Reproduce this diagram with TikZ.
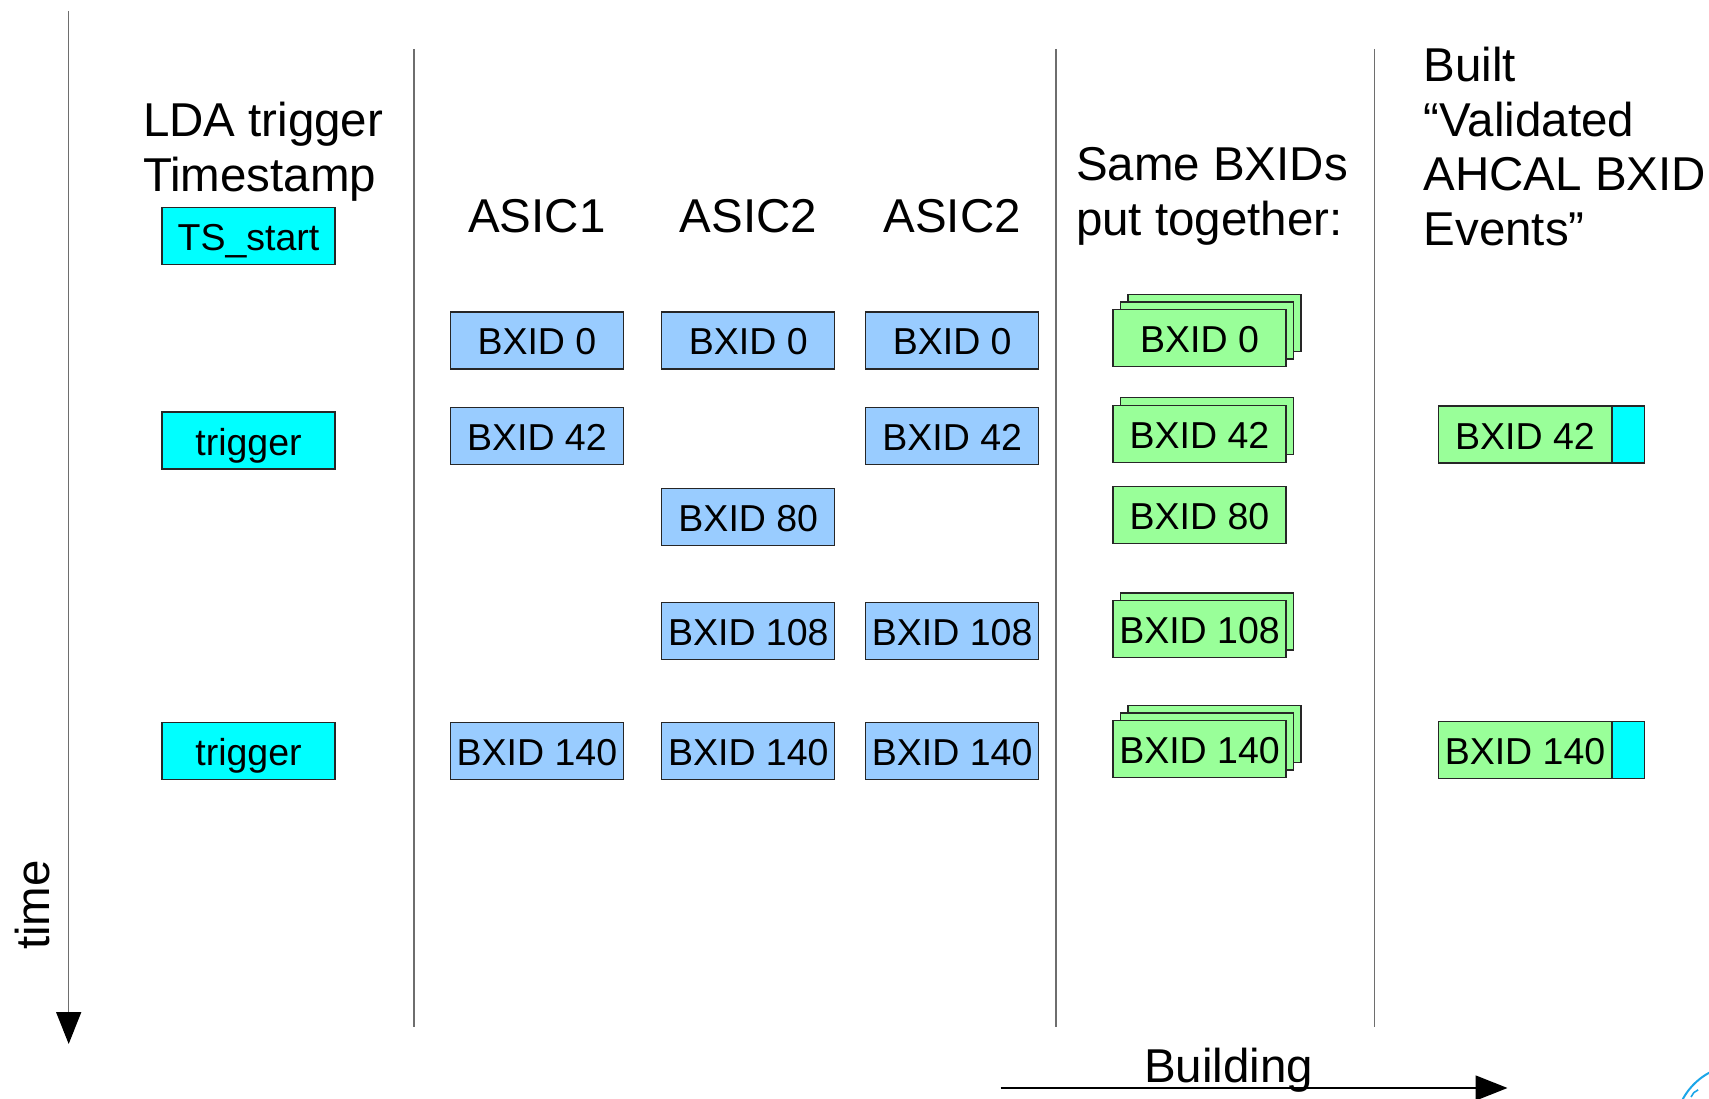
\documentclass[tikz,border=0pt]{standalone}
\usepackage{fontspec}
\setmainfont{Liberation Sans}
\usetikzlibrary{arrows.meta}

\definecolor{asicblue}{HTML}{99CCFF}
\definecolor{evgreen}{HTML}{99FF99}
\definecolor{trigcyan}{HTML}{00FFFF}
\definecolor{rulegray}{HTML}{6E6E6E}
\definecolor{logoblue}{HTML}{1BA6E8}

\newcommand\headfont{\fontsize{47.5}{54.6}\selectfont}
\newcommand\boxfont{\fontsize{37.5}{42}\selectfont}

\tikzset{
  cell/.style={draw=black!85, line width=1.2pt, minimum width=173pt,
    minimum height=57pt, inner sep=0pt, font=\boxfont,
    text height=35.2pt, text depth=6.2pt},
  asicbox/.style={cell, fill=asicblue},
  evbox/.style={cell, fill=evgreen},
  trigbox/.style={cell, fill=trigcyan},
  head/.style={inner sep=0pt, font=\headfont, anchor=base west},
  headc/.style={inner sep=0pt, font=\headfont, anchor=base},
  sepline/.style={draw=rulegray, line width=1.5pt},
  bigarrow/.style={line width=1.5pt, -{Triangle[length=32pt,width=25pt,color=black]}}
}

\begin{document}
\begin{tikzpicture}[x=1pt,y=-1pt]
\useasboundingbox (0,0) rectangle (1709,1099);

% time axis
\coordinate (t0) at (68.7,11);
\coordinate (t1) at (68.7,1044);
\draw[bigarrow, draw=rulegray] (t0) -- (t1);
\node[inner sep=0pt, font=\headfont, anchor=base, rotate=90] (timelbl) at (49,905) {time};

% column separators
\coordinate (s1a) at (414.2,49);   \coordinate (s1b) at (414.2,1027);
\coordinate (s2a) at (1056.2,49);  \coordinate (s2b) at (1056.2,1027);
\coordinate (s3a) at (1374.5,49);  \coordinate (s3b) at (1374.5,1027);
\draw[sepline] (s1a) -- (s1b);
\draw[sepline] (s2a) -- (s2b);
\draw[sepline] (s3a) -- (s3b);

% column headings
\node[head] (lda1) at (142.8,137) {LDA trigger};
\node[head] (lda2) at (142.8,192) {Timestamp};
\node[headc] (h1) at (536.9,233) {ASIC1};
\node[headc] (h2) at (748.3,233) {ASIC2};
\node[headc] (h3) at (952.2,233) {ASIC2};
\node[head] (same1) at (1075.8,181) {Same BXIDs};
\node[head] (same2) at (1075.8,235.5) {put together:};
\node[head] (built1) at (1423.5,81.7) {Built};
\node[head] (built2) at (1423.5,136.2) {“Validated};
\node[head] (built3) at (1423.5,190.7) {AHCAL BXID};
\node[head] (built4) at (1423.5,245.2) {Events”};

% LDA timestamps
\node[trigbox] (tsstart) at (248.5,236) {TS\_start};
\node[trigbox] (trig1) at (248.5,440.5) {trigger};
\node[trigbox] (trig2) at (248.5,751) {trigger};

% ASIC readouts
\node[asicbox] (a1b0)   at (536.9,340.5) {BXID 0};
\node[asicbox] (a2b0)   at (748.3,340.5) {BXID 0};
\node[asicbox] (a3b0)   at (952.2,340.5) {BXID 0};
\node[asicbox] (a1b42)  at (536.9,436) {BXID 42};
\node[asicbox] (a3b42)  at (952.2,436) {BXID 42};
\node[asicbox] (a2b80)  at (748.3,516.7) {BXID 80};
\node[asicbox] (a2b108) at (748.3,631) {BXID 108};
\node[asicbox] (a3b108) at (952.2,631) {BXID 108};
\node[asicbox] (a1b140) at (536.9,751) {BXID 140};
\node[asicbox] (a2b140) at (748.3,751) {BXID 140};
\node[asicbox] (a3b140) at (952.2,751) {BXID 140};

% merged BXIDs (stacked copies)
\node[evbox] (m0c)   at (1214.5,323) {};
\node[evbox] (m0b)   at (1207,330.5) {};
\node[evbox] (m0a)   at (1199.5,338) {BXID 0};
\node[evbox] (m42b)  at (1207,426.3) {};
\node[evbox] (m42a)  at (1199.5,433.8) {BXID 42};
\node[evbox] (m80a)  at (1199.5,514.6) {BXID 80};
\node[evbox] (m108b) at (1207,621.5) {};
\node[evbox] (m108a) at (1199.5,629) {BXID 108};
\node[evbox] (m140c) at (1214.5,734) {};
\node[evbox] (m140b) at (1207,741.5) {};
\node[evbox] (m140a) at (1199.5,749) {BXID 140};

% validated events
\node[evbox] (v42) at (1525,434.5) {BXID 42};
\node[trigbox, minimum width=32pt, anchor=west] (v42t) at (v42.east) {};
\node[evbox] (v140) at (1525,749.7) {BXID 140};
\node[trigbox, minimum width=32pt, anchor=west] (v140t) at (v140.east) {};

% building direction
\coordinate (b0) at (1000.6,1088);
\coordinate (b1) at (1507.5,1088);
\draw[bigarrow, draw=black] (b0) -- (b1);
\node[headc] (buildlbl) at (1228.5,1082.6) {Building};

% corner emblem
\draw[logoblue, line width=2pt] (1740,1130) circle (65);
\draw[logoblue, line width=1.6pt] (1691,1097) arc[start angle=200, end angle=250, radius=12];
\end{tikzpicture}
\end{document}
